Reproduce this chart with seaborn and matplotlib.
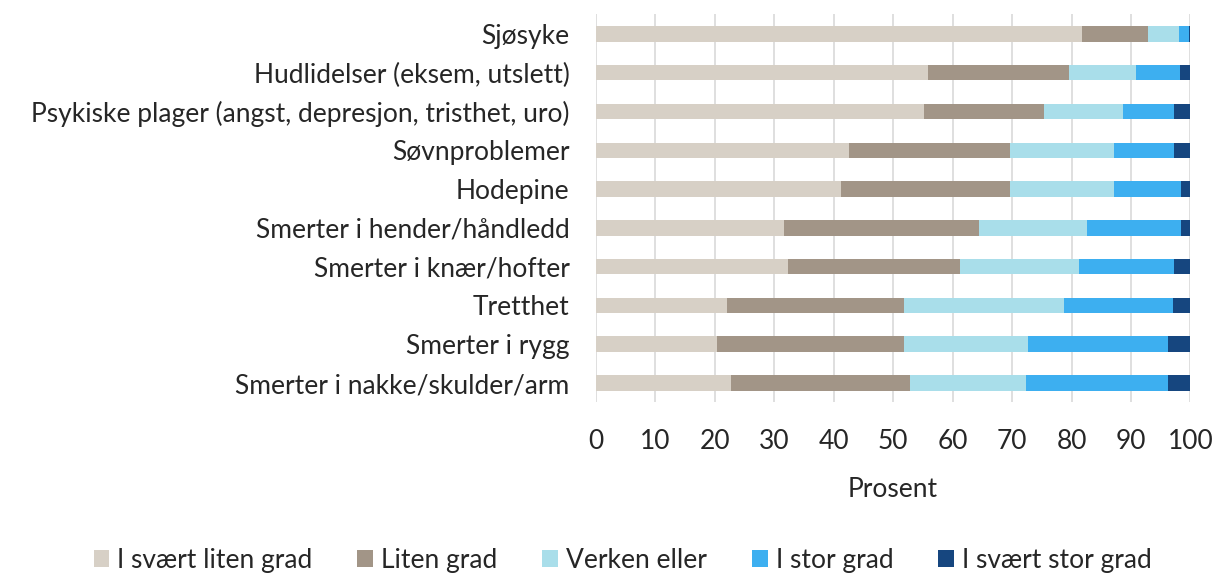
import numpy as np
import pandas as pd
import seaborn as sns
import matplotlib.pyplot as plt
from matplotlib.patches import Patch

# ---- data (percent per answer category) ----
plager = [
    "Sjøsyke",
    "Hudlidelser (eksem, utslett)",
    "Psykiske plager (angst, depresjon, tristhet, uro)",
    "Søvnproblemer",
    "Hodepine",
    "Smerter i hender/håndledd",
    "Smerter i knær/hofter",
    "Tretthet",
    "Smerter i rygg",
    "Smerter i nakke/skulder/arm",
]
svaert_liten = [81.7, 55.8, 55.2, 42.5, 41.2, 31.6, 32.4, 22.0, 20.3, 22.7]
liten = [11.2, 23.7, 20.1, 27.1, 28.4, 32.9, 28.9, 29.8, 31.5, 30.1]
verken = [5.2, 11.4, 13.4, 17.6, 17.6, 18.1, 19.9, 27.0, 20.8, 19.6]
stor = [1.6, 7.4, 8.5, 10.1, 11.2, 15.8, 16.1, 18.2, 23.7, 23.9]
svaert_stor = [0.3, 1.7, 2.8, 2.7, 1.6, 1.6, 2.7, 3.0, 3.7, 3.7]

serier = ["I svært liten grad", "Liten grad", "Verken eller", "I stor grad", "I svært stor grad"]
farger = ["#D7D0C6", "#A29587", "#A9DEEA", "#3DAFF0", "#16467F"]
x_ticks = [0, 10, 20, 30, 40, 50, 60, 70, 80, 90, 100]

df = pd.DataFrame(
    {s: v for s, v in zip(serier, [svaert_liten, liten, verken, stor, svaert_stor])},
    index=plager,
)
cum = df.cumsum(axis=1)

sns.set_style("white")
plt.rcParams["font.family"] = ["Lato", "DejaVu Sans"]

fig = plt.figure(figsize=(12.16, 5.73), dpi=100)
ax = fig.add_axes([0.490, 0.2977, 0.489, 0.677])

# stacked bars: draw cumulative totals from largest to smallest
for serie, farge in reversed(list(zip(serier, farger))):
    sns.barplot(x=cum[serie].values, y=plager, color=farge, orient="h",
                width=0.4, linewidth=0, saturation=1, ax=ax, zorder=3)

ax.set_xlim(0, 100)
ax.set_ylim(9.5, -0.5)
ax.set_xticks(x_ticks)
ax.xaxis.grid(True, color="#D9D9D9", linewidth=1.2, zorder=0)
ax.set_axisbelow(True)
for s in ax.spines.values():
    s.set_visible(False)
ax.tick_params(axis="y", length=0, pad=19, labelsize=19, labelcolor="#262626")
ax.tick_params(axis="x", length=0, pad=19, labelsize=19, labelcolor="#262626")
ax.set_xlabel("Prosent", fontsize=19, color="#262626", labelpad=17)
ax.set_ylabel("")

handles = [Patch(facecolor=f, edgecolor="none") for f in farger]
fig.legend(handles, serier, loc="center", bbox_to_anchor=(0.512, 0.022), ncol=5,
           frameon=False, fontsize=19, handlelength=0.6, handleheight=0.6,
           handletextpad=0.3, columnspacing=1.7, labelcolor="#262626")

fig.savefig("out.png", dpi=100)
plt.close(fig)
